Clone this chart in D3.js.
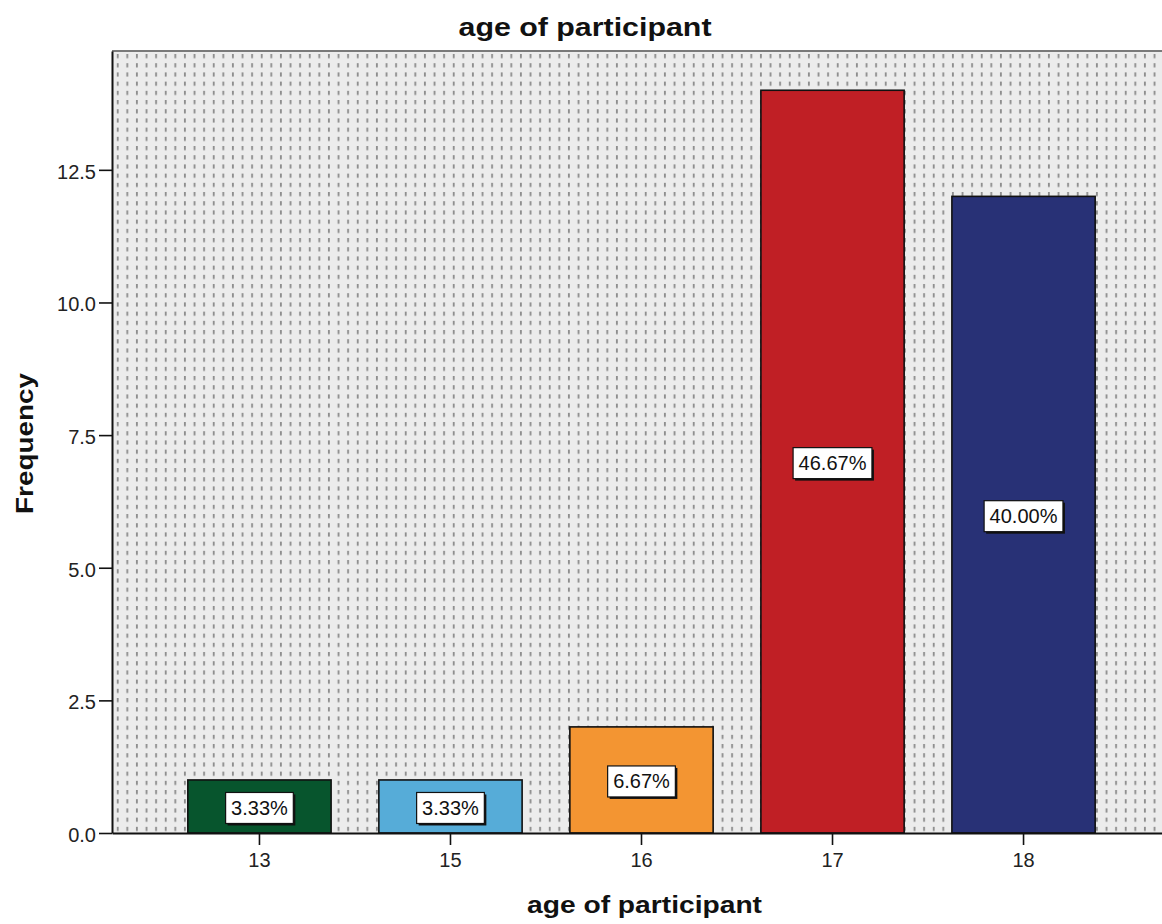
<!DOCTYPE html>
<html>
<head>
<meta charset="utf-8">
<script src="https://cdn.jsdelivr.net/npm/d3@7/dist/d3.min.js"></script>
<style>
  html, body { margin: 0; padding: 0; background: #ffffff; }
  svg { display: block; }
  text { font-family: "Liberation Sans", Arial, sans-serif; }
</style>
</head>
<body>
<svg id="chart" width="1162" height="924"></svg>
<script>
// ---- data ----
const categories = ["13", "15", "16", "17", "18"];
const frequencies = [1, 1, 2, 14, 12];
const percentLabels = ["3.33%", "3.33%", "6.67%", "46.67%", "40.00%"];
const barColors = ["#07552d", "#56acd8", "#f39532", "#c01f25", "#283176"];
const yTickValues = [0, 2.5, 5, 7.5, 10, 12.5];
const chartTitle = "age of participant";
const xTitle = "age of participant";
const yTitle = "Frequency";

// ---- layout ----
const plotLeft = 112, plotRight = 1171, plotTop = 51, plotBottom = 833;
const svg = d3.select("#chart");

const x = d3.scaleBand().domain(categories).range([plotLeft, plotRight])
  .paddingInner(0.25).paddingOuter(0.397);
const y = d3.scaleLinear().domain([0, 14.74]).range([plotBottom, plotTop]);

// dotted background pattern
const defs = svg.append("defs");
const pat = defs.append("pattern").attr("id", "dots")
  .attr("patternUnits", "userSpaceOnUse")
  .attr("x", plotLeft + 1).attr("y", plotTop + 3)
  .attr("width", 9.6).attr("height", 9.2);
pat.append("rect").attr("width", 9.6).attr("height", 9.2).attr("fill", "#ececec");
pat.append("rect").attr("x", 3.8).attr("y", 0).attr("width", 1.8).attr("height", 4.2).attr("fill", "#8c8c8c");

svg.append("rect")
  .attr("x", plotLeft).attr("y", plotTop)
  .attr("width", plotRight - plotLeft).attr("height", plotBottom - plotTop)
  .attr("fill", "url(#dots)");

// top border
svg.append("line")
  .attr("x1", plotLeft).attr("x2", 1162)
  .attr("y1", plotTop).attr("y2", plotTop)
  .attr("stroke", "#7a7a7a").attr("stroke-width", 2);

// bars
svg.append("g").selectAll("rect")
  .data(categories)
  .join("rect")
  .attr("x", (d) => x(d))
  .attr("y", (d, i) => y(frequencies[i]))
  .attr("width", x.bandwidth())
  .attr("height", (d, i) => y(0) - y(frequencies[i]))
  .attr("fill", (d, i) => barColors[i])
  .attr("stroke", "#111")
  .attr("stroke-width", 1.6);

// percentage labels
const lab = svg.append("g").selectAll("g")
  .data(categories)
  .join("g")
  .attr("transform", (d, i) => {
    const cx = x(d) + x.bandwidth() / 2;
    const cy = (y(frequencies[i]) + y(0)) / 2 + 1.5;
    return `translate(${cx},${cy})`;
  });
lab.each(function (d, i) {
  const g = d3.select(this);
  const t = g.append("text")
    .attr("text-anchor", "middle")
    .attr("dy", "0.35em")
    .attr("font-size", 20)
    .attr("fill", "#111")
    .text(percentLabels[i]);
  const w = t.node().getComputedTextLength() + 11;
  const h = 31;
  g.insert("rect", "text")
    .attr("x", -w / 2 + 2).attr("y", -h / 2 + 2)
    .attr("width", w).attr("height", h)
    .attr("fill", "#111");
  g.insert("rect", "text")
    .attr("x", -w / 2).attr("y", -h / 2)
    .attr("width", w).attr("height", h)
    .attr("fill", "#ffffff")
    .attr("stroke", "#111").attr("stroke-width", 1.2);
});

// axes
const yAxis = d3.axisLeft(y).tickValues(yTickValues)
  .tickFormat(d3.format(".1f")).tickSize(13).tickPadding(3).tickSizeOuter(0);
const gy = svg.append("g").attr("transform", `translate(${plotLeft},0)`).call(yAxis);
gy.select(".domain").attr("stroke", "#111").attr("stroke-width", 2);
gy.selectAll(".tick line").attr("stroke", "#111").attr("stroke-width", 1.6);
gy.selectAll(".tick text").attr("font-size", 20).attr("fill", "#222")
  .attr("font-family", "Liberation Sans, Arial, sans-serif").attr("dy", "0.42em");

const xAxis = d3.axisBottom(x).tickSize(12).tickPadding(8).tickSizeOuter(0);
const gx = svg.append("g").attr("transform", `translate(0,${plotBottom})`).call(xAxis);
gx.select(".domain").attr("stroke", "#111").attr("stroke-width", 2);
gx.selectAll(".tick line").attr("stroke", "#111").attr("stroke-width", 1.6);
gx.selectAll(".tick text").attr("font-size", 20).attr("fill", "#222")
  .attr("font-family", "Liberation Sans, Arial, sans-serif");

// titles
svg.append("text")
  .attr("x", 585).attr("y", 36)
  .attr("text-anchor", "middle")
  .attr("font-size", 25).attr("font-weight", "bold").attr("fill", "#111")
  .attr("textLength", 253).attr("lengthAdjust", "spacingAndGlyphs")
  .text(chartTitle);

svg.append("text")
  .attr("x", 644.5).attr("y", 913)
  .attr("text-anchor", "middle")
  .attr("font-size", 23).attr("font-weight", "bold").attr("fill", "#111")
  .attr("textLength", 235).attr("lengthAdjust", "spacingAndGlyphs")
  .text(xTitle);

svg.append("text")
  .attr("transform", "translate(33,443.5) rotate(-90)")
  .attr("text-anchor", "middle")
  .attr("font-size", 23).attr("font-weight", "bold").attr("fill", "#111")
  .attr("textLength", 141).attr("lengthAdjust", "spacingAndGlyphs")
  .text(yTitle);
</script>
</body>
</html>
